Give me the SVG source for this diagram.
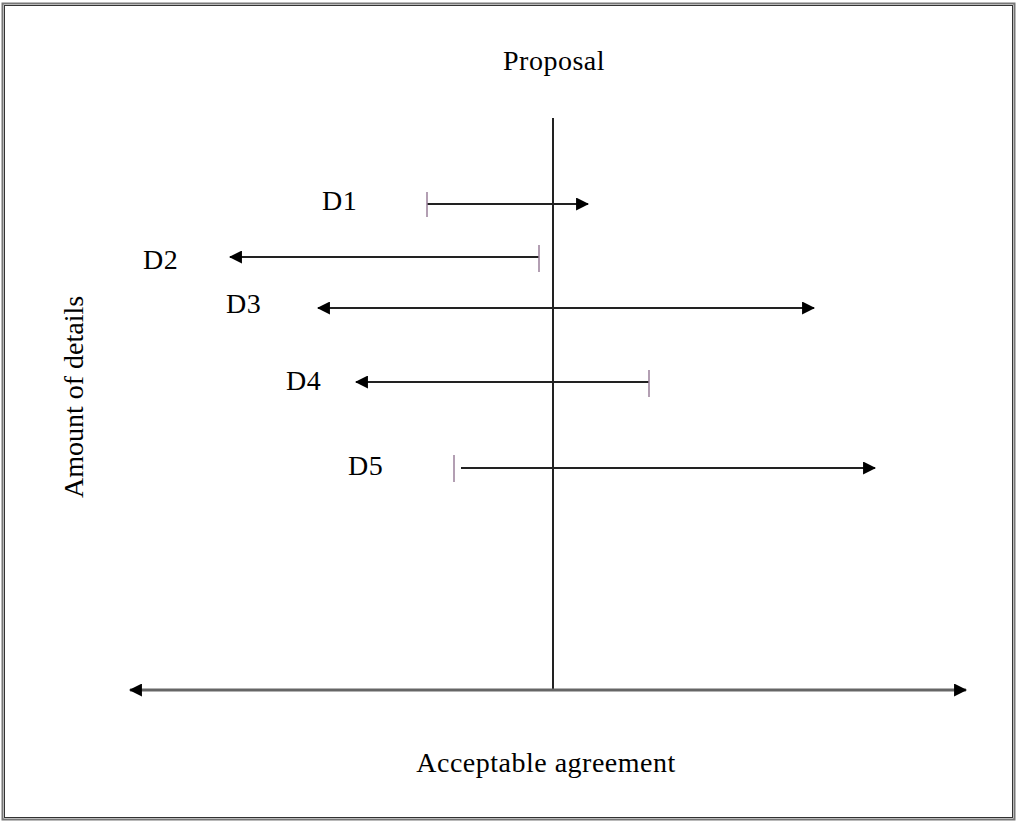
<svg xmlns="http://www.w3.org/2000/svg" width="1017" height="823" viewBox="0 0 1017 823">
<style>
.lbl{font-family:"Liberation Serif","Times New Roman",serif;font-size:28px;letter-spacing:0.5px;fill:#000}
.ln{stroke:#222;stroke-width:2;fill:none}
.tick{stroke:#9a7f9a;stroke-width:1.5}
</style>
<defs>
<marker id="ah" viewBox="0 0 12 12" refX="11" refY="6" markerWidth="13" markerHeight="13" markerUnits="userSpaceOnUse" orient="auto-start-reverse">
<path d="M0,0 L12,6 L0,12 z" fill="#000"/>
</marker>
</defs>
<rect x="0" y="0" width="1017" height="823" fill="#fff"/>
<rect x="2.5" y="3.5" width="1012" height="816" fill="none" stroke="#777" stroke-width="2"/>
<rect x="4.5" y="5.5" width="1008" height="812" fill="none" stroke="#333" stroke-width="1"/>
<g id="connectors">
<line class="ln" x1="553" y1="118" x2="553" y2="690"/>
<line x1="130" y1="690" x2="966" y2="690" stroke="#666" stroke-width="3" marker-start="url(#ah)" marker-end="url(#ah)"/>
<line class="ln" x1="427" y1="204" x2="588" y2="204" marker-end="url(#ah)"/>
<line class="tick" x1="427" y1="192" x2="427" y2="217"/>
<line class="ln" x1="539" y1="257" x2="230" y2="257" marker-end="url(#ah)"/>
<line class="tick" x1="539" y1="245" x2="539" y2="272"/>
<line class="ln" x1="318" y1="308" x2="814" y2="308" marker-start="url(#ah)" marker-end="url(#ah)"/>
<line class="ln" x1="649" y1="382" x2="356" y2="382" marker-end="url(#ah)"/>
<line class="tick" x1="649" y1="370" x2="649" y2="397"/>
<line class="ln" x1="461" y1="468" x2="875" y2="468" marker-end="url(#ah)"/>
<line class="tick" x1="454" y1="455" x2="454" y2="482"/>
</g>
<g id="proposal"><text class="lbl" x="554" y="70" text-anchor="middle">Proposal</text></g>
<g id="agreement"><text class="lbl" x="546" y="772" text-anchor="middle">Acceptable agreement</text></g>
<g id="details"><text class="lbl" style="letter-spacing:0" transform="translate(83,397) rotate(-90)" text-anchor="middle">Amount of details</text></g>
<g id="d1"><text class="lbl" x="322" y="210">D1</text></g>
<g id="d2"><text class="lbl" x="143" y="269">D2</text></g>
<g id="d3"><text class="lbl" x="226" y="313">D3</text></g>
<g id="d4"><text class="lbl" x="286" y="390">D4</text></g>
<g id="d5"><text class="lbl" x="348" y="475">D5</text></g>
</svg>
